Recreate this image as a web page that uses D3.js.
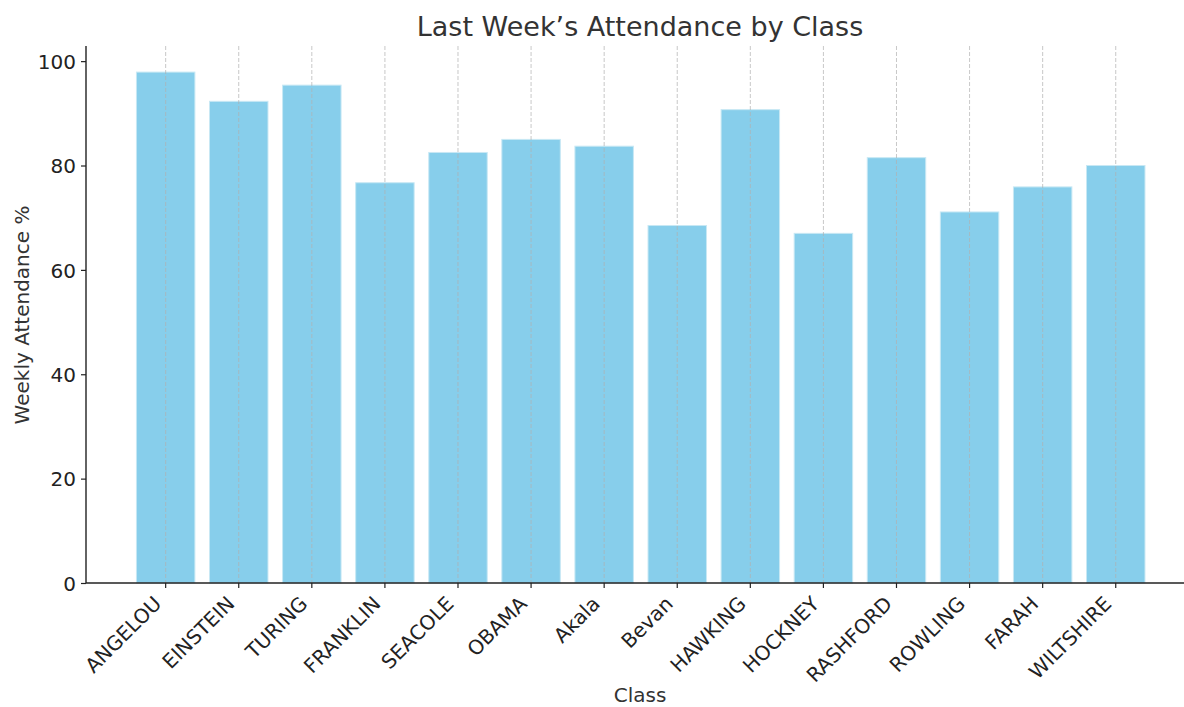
<!DOCTYPE html>
<html>
<head>
<meta charset="utf-8">
<script src="https://cdn.jsdelivr.net/npm/d3@7"></script>
<style>
  body { margin: 0; background: #fff; }
  svg, svg text { font-family: "DejaVu Sans", sans-serif; }
</style>
</head>
<body>
<script>
// data
var classes = ["ANGELOU", "EINSTEIN", "TURING", "FRANKLIN", "SEACOLE", "OBAMA", "Akala",
               "Bevan", "HAWKING", "HOCKNEY", "RASHFORD", "ROWLING", "FARAH", "WILTSHIRE"];
var attendance = [97.9, 92.3, 95.4, 76.7, 82.5, 85.0, 83.7, 68.5, 90.7, 67.0, 81.5, 71.1, 75.9, 80.0];
var yTicks = [0, 20, 40, 60, 80, 100];

var width = 1184, height = 707;
var plotLeft = 86, plotBottom = 583, plotTop = 46;

var svg = d3.select("body").append("svg")
    .attr("width", width)
    .attr("height", height);

var x = d3.scaleBand()
    .domain(classes)
    .range([plotLeft, 1195.4])
    .paddingInner(0.2)
    .paddingOuter(0.69);

var y = d3.scaleLinear()
    .domain([0, 102.9])
    .range([plotBottom, plotTop]);

var data = classes.map(function(c, i) { return {key: c, value: attendance[i]}; });

// bars
svg.selectAll(".bar")
    .data(data)
    .enter().append("rect")
    .attr("class", "bar")
    .attr("x", function(d) { return x(d.key); })
    .attr("width", x.bandwidth())
    .attr("y", function(d) { return y(d.value); })
    .attr("height", function(d) { return y(0) - y(d.value); })
    .style("fill", "#87ceeb")
    .style("stroke", "#c8e8f4")
    .style("stroke-width", 1);

// vertical dashed grid on top of bars
svg.selectAll(".grid")
    .data(classes)
    .enter().append("line")
    .attr("class", "grid")
    .attr("x1", function(d) { return x(d) + x.bandwidth() / 2; })
    .attr("x2", function(d) { return x(d) + x.bandwidth() / 2; })
    .attr("y1", plotTop)
    .attr("y2", plotBottom)
    .style("stroke", "#b0b0b0")
    .style("stroke-opacity", 0.7)
    .style("stroke-width", 1)
    .style("stroke-dasharray", "4,2");

// y axis
var yAxis = svg.append("g")
    .attr("transform", "translate(" + plotLeft + ",0)")
    .call(d3.axisLeft(y).tickValues(yTicks).tickSize(5).tickPadding(5));
yAxis.attr("font-family", "DejaVu Sans").attr("font-size", 20);
yAxis.select(".domain").attr("d", "M0," + plotBottom + "V" + plotTop).style("stroke", "#222").style("stroke-width", 1.4);
yAxis.selectAll(".tick line").style("stroke", "#222").style("stroke-width", 1.2);
yAxis.selectAll("text").style("fill", "#222").attr("dy", "0.36em");

// x axis
var xAxis = svg.append("g")
    .attr("transform", "translate(0," + plotBottom + ")")
    .call(d3.axisBottom(x).tickSize(5).tickSizeOuter(0));
xAxis.attr("font-family", "DejaVu Sans").attr("font-size", 20);
xAxis.select(".domain").attr("d", "M" + plotLeft + ",0H" + width).style("stroke", "#222").style("stroke-width", 1.4);
xAxis.selectAll(".tick line").style("stroke", "#222").style("stroke-width", 1.2);
xAxis.selectAll("text")
    .style("fill", "#222")
    .style("text-anchor", "end")
    .attr("x", 0)
    .attr("y", 0)
    .attr("dy", 0)
    .attr("transform", "translate(-3,22) rotate(-45)");

// title and axis labels
svg.append("text")
    .attr("x", 640)
    .attr("y", 36)
    .attr("text-anchor", "middle")
    .style("font-size", "27px")
    .style("fill", "#333")
    .text("Last Week\u2019s Attendance by Class");

svg.append("text")
    .attr("x", 640)
    .attr("y", 702)
    .attr("text-anchor", "middle")
    .style("font-size", "20px")
    .style("fill", "#333")
    .text("Class");

svg.append("text")
    .attr("transform", "translate(29,315) rotate(-90)")
    .attr("text-anchor", "middle")
    .style("font-size", "20px")
    .style("fill", "#333")
    .text("Weekly Attendance %");
</script>
</body>
</html>
